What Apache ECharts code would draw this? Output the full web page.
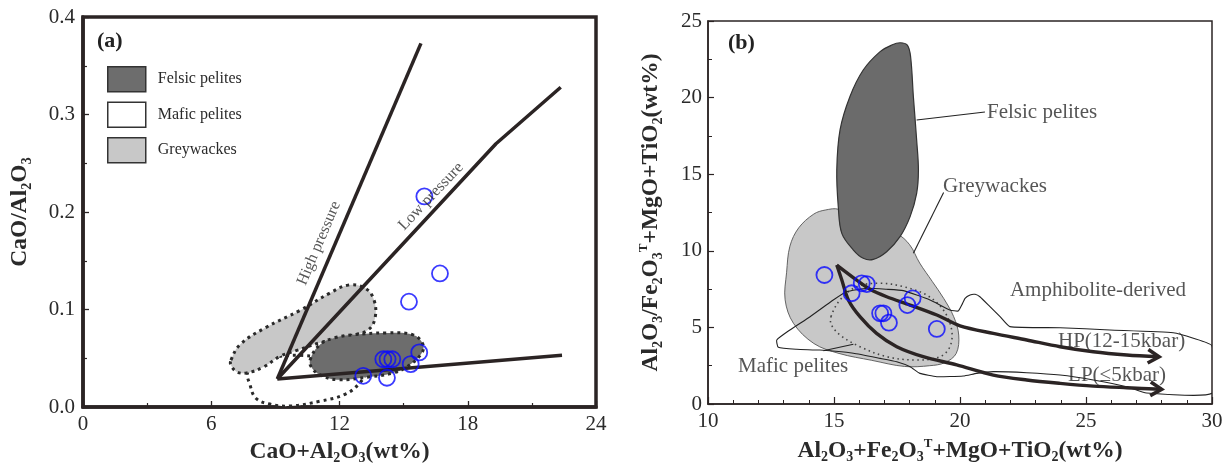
<!DOCTYPE html>
<html><head><meta charset="utf-8">
<script src="https://cdn.jsdelivr.net/npm/echarts/dist/echarts.min.js"></script>
<style>html,body{margin:0;padding:0;background:#fff}#c{width:1231px;height:467px}</style>
</head><body><div id="c"></div>
<script>
// ================= DATA =================
// Panel (a)
const aXTicks = [0, 6, 12, 18, 24];
const aYTicks = [0, 0.1, 0.2, 0.3, 0.4];
const aSamples = [[15.97,0.216],[16.70,0.137],[15.25,0.108],[15.73,0.056],[15.33,0.044],
  [14.05,0.049],[14.25,0.049],[14.47,0.049],[13.11,0.032],[14.22,0.030]];
const aHighPressure = [[9.09,0.0287],[15.81,0.373]];
const aLowPressure = [[9.09,0.0287],[19.32,0.270],[22.35,0.328]];
const aBaseLine = [[9.09,0.0287],[22.41,0.053]];
const aFelsic = [[10.62,0.048],[11.09,0.064],[11.79,0.071],[12.63,0.074],[14.22,0.076],[15.44,0.074],
  [15.91,0.064],[15.81,0.054],[15.14,0.041],[14.52,0.035],[13.43,0.031],[11.88,0.028],[11.09,0.033],[10.71,0.040]];
const aMafic = [[7.72,0.036],[7.81,0.023],[8.09,0.009],[8.75,0.003],[9.68,0.001],[11.09,0.006],[12.26,0.013],
  [12.96,0.025],[13.19,0.036],[12.02,0.046],[10.15,0.053],[8.51,0.048]];
const aGreywacke = [[6.92,0.048],[7.35,0.064],[8.51,0.081],[10.15,0.099],[11.56,0.117],[12.40,0.125],[13.19,0.122],
  [13.61,0.110],[13.66,0.091],[13.33,0.079],[12.49,0.073],[11.09,0.066],[10.0,0.058],[9.22,0.052],[8.44,0.041],
  [7.66,0.035],[7.2,0.036],[6.92,0.043]];
const aLegendNames = ['Felsic pelites', 'Mafic pelites', 'Greywackes'];
const aNotes = [{text:'High pressure', x:11.04, y:0.168, rot:67}, {text:'Low pressure', x:16.28, y:0.216, rot:46.5}];

// Panel (b)
const bXTicks = [10, 15, 20, 25, 30];
const bYTicks = [0, 5, 10, 15, 20, 25];
const bSamples = [[14.62,8.42],[15.70,7.23],[16.10,7.88],[16.30,7.83],[16.83,5.92],[16.96,5.92],
  [17.18,5.31],[17.91,6.46],[18.12,6.90],[19.08,4.90]];
const bFelsic = [[17.62,23.58],[17.91,23.43],[18.04,22.67],[18.15,20.06],[18.28,17.23],[18.35,15.27],[18.28,13.75],
  [18.02,12.23],[17.62,10.92],[17.09,9.94],[16.56,9.44],[16.16,9.51],[15.77,10.05],[15.31,11.14],[15.17,12.88],
  [15.11,15.27],[15.24,17.89],[15.63,20.06],[16.16,21.80],[16.83,23.0],[17.29,23.43]];
const bGreywacke = [[13.25,10.3],[13.6,11.5],[14.2,12.4],[14.65,12.66],[15.2,12.7],[16.4,11.6],[17.5,11.1],[18.0,10.4],
  [18.4,9.2],[18.9,8.0],[19.35,6.9],[19.75,5.7],[19.95,4.5],[19.85,3.3],[19.4,2.7],[18.8,2.5],[17.8,2.45],
  [16.5,2.85],[15.2,3.3],[14.2,3.95],[13.39,5.27],[13.06,6.8],[13.12,8.6]];
const bMafic = [[14.88,5.70],[15.24,6.79],[15.9,7.66],[16.83,7.88],[17.75,7.66],[18.68,7.11],[19.34,6.14],
  [19.67,4.83],[19.6,3.74],[19.21,3.09],[18.28,2.87],[17.09,3.09],[16.03,3.74],[15.24,4.5],[14.9,5.16]];
const bAmphibolite = [[12.73,4.18],[13.25,4.83],[14.05,5.70],[14.97,6.79],[15.5,7.33],[16.3,7.55],[17.09,7.49],
  [17.75,7.40],[18.81,6.79],[19.6,6.14],[19.93,6.07],[20.07,6.46],[20.2,6.9],[20.4,7.12],[20.6,7.16],[20.79,7.0],
  [21.19,6.35],[21.59,5.7],[21.98,5.05],[23.97,4.98],[25.95,4.83],[28.46,4.65],[29.26,4.29],[30.0,3.8],
  [30.0,0.70],[27.4,0.72],[26.62,1.13],[25.29,1.57],[23.97,1.89],[22.65,2.04],[21.32,2.11],[20.66,2.0],
  [20.13,1.83],[19.08,1.78],[18.41,2.0],[18.02,2.43],[17.49,2.76],[16.83,2.98],[15.77,3.31],[14.44,3.52],
  [13.52,3.57],[12.79,3.70]];
const bHP = [[15.11,9.07],[15.90,8.09],[16.43,7.49],[17.09,7.00],[18.02,6.46],[19.08,5.81],[20.0,5.10],
  [21.32,4.61],[22.65,4.18],[23.97,3.74],[25.29,3.41],[26.62,3.20],[27.9,3.08]];
const bLP = [[15.11,9.07],[15.31,8.09],[15.57,6.79],[16.03,5.70],[16.69,4.61],[17.49,3.74],[18.54,3.09],
  [19.87,2.55],[21.32,1.89],[22.65,1.57],[23.97,1.35],[25.29,1.17],[26.62,1.06],[28.0,0.96]];
const bLeaderFelsic = [[18.28,18.54],[20.99,19.06]];
const bLeaderGrey = [[18.15,9.84],[19.35,13.8]];
const bLeaderMafic = [[14.58,3.48],[15.77,3.90]];
const bNotes = [{text:'Felsic pelites', x:21.07, y:19.06}, {text:'Greywackes', x:19.33, y:14.23},
  {text:'Amphibolite-derived', x:21.98, y:7.44}, {text:'HP(12-15kbar)', x:23.89, y:4.05},
  {text:'LP(≤5kbar)', x:24.29, y:1.89}, {text:'Mafic pelites', x:11.19, y:2.48}];

// ================= STYLE =================
const INK = '#2b2424';
const SERIF = '"Liberation Serif", "Times New Roman", serif';
const TXT = '#2a2a2a';
const BLUE = '#0a0aff';

function nameRich(size) {
  return {
    b: {fontFamily: SERIF, fontSize: size, fontWeight: 'bold', color: TXT, lineHeight: size + 4},
    s: {fontFamily: SERIF, fontSize: Math.round(size * 0.6), fontWeight: 'bold', color: TXT,
        verticalAlign: 'bottom', lineHeight: Math.round(size * 0.6) + 2},
    p: {fontFamily: SERIF, fontSize: Math.round(size * 0.55), fontWeight: 'bold', color: TXT,
        verticalAlign: 'top', lineHeight: Math.round(size * 0.55) + 2}
  };
}

function polyRender(points, style, smooth) {
  return function (params, api) {
    if (params.dataIndex !== 0) return null;
    return {type: 'polygon', shape: {points: points.map(p => api.coord(p)), smooth: smooth},
      style: Object.assign({}, style)};
  };
}
function arrowRender(points) {
  return function (params, api) {
    if (params.dataIndex !== 0) return null;
    const pts = points.map(p => api.coord(p));
    const n = pts.length, tip = pts[n - 1], prev = pts[n - 2];
    const ang = Math.atan2(tip[1] - prev[1], tip[0] - prev[0]);
    const L = 13, a = 0.55;
    const h1 = [tip[0] - L * Math.cos(ang - a), tip[1] - L * Math.sin(ang - a)];
    const h2 = [tip[0] - L * Math.cos(ang + a), tip[1] - L * Math.sin(ang + a)];
    return {type: 'group', children: [
      {type: 'polyline', shape: {points: pts, smooth: 0.3}, style: {stroke: INK, lineWidth: 3.4, fill: null}},
      {type: 'polyline', shape: {points: [h1, tip, h2]}, style: {stroke: INK, lineWidth: 3.6, fill: null, lineJoin: 'miter'}}
    ]};
  };
}
function customPoly(name, gi, points, style, smooth, z, color) {
  return {type: 'custom', name: name, xAxisIndex: gi, yAxisIndex: gi, data: points, clip: true, silent: true, z: z,
    itemStyle: {color: color || '#000'}, renderItem: polyRender(points, style, smooth)};
}
function lineSeries(gi, pts, width, z, color) {
  return {type: 'line', xAxisIndex: gi, yAxisIndex: gi, data: pts, symbol: 'none', silent: true, z: z,
    lineStyle: {color: color || INK, width: width}, emphasis: {disabled: true}, animation: false};
}
function notesSeries(gi, notes, size, position) {
  return {type: 'scatter', xAxisIndex: gi, yAxisIndex: gi, symbolSize: 0, silent: true, z: 20,
    data: notes.map(n => ({value: [n.x, n.y], label: {formatter: n.text, rotate: n.rot || 0}})),
    label: {show: true, position: position, distance: 0, fontFamily: SERIF, fontSize: size, color: TXT}};
}
function axis(gi, ticks, opts) {
  return Object.assign({
    gridIndex: gi, type: 'value', min: ticks[0], max: ticks[ticks.length - 1], interval: ticks[1] - ticks[0],
    splitLine: {show: false},
    axisTick: {show: true, inside: true, length: 6, lineStyle: {color: INK, width: 1.3}},
    axisLabel: {fontFamily: SERIF, fontSize: 21, color: TXT, margin: 7},
    nameLocation: 'middle'
  }, opts);
}

const chart = echarts.init(document.getElementById('c'), null, {renderer: 'canvas'});
chart.setOption({
  animation: false,
  backgroundColor: '#fff',
  grid: [
    {left: 83, top: 17, width: 513, height: 390, show: true, borderColor: INK, borderWidth: 3.5, containLabel: false, outerBoundsMode: 'none'},
    {left: 708, top: 21, width: 504, height: 383, show: true, borderColor: INK, borderWidth: 1.5, containLabel: false, outerBoundsMode: 'none'}
  ],
  xAxis: [
    axis(0, aXTicks, {axisLine: {show: true, lineStyle: {color: INK, width: 3.5}},
      minorTick: {show: true, splitNumber: 2, length: 4, lineStyle: {color: INK, width: 1.2}},
      name: '{b|CaO+Al}{s|2}{b|O}{s|3}{b|(wt%)}', nameGap: 31, nameTextStyle: {rich: nameRich(23.5)}}),
    axis(1, bXTicks, {axisLine: {show: true, lineStyle: {color: INK, width: 1.5}},
      axisTick: {show: true, inside: true, length: 7, lineStyle: {color: INK, width: 1.2}},
      minorTick: {show: true, splitNumber: 5, length: 4, lineStyle: {color: INK, width: 1}},
      name: '{b|Al}{s|2}{b|O}{s|3}{b|+Fe}{s|2}{b|O}{s|3}{p|T}{b|+MgO+TiO}{s|2}{b|(wt%)}', nameGap: 31,
      nameTextStyle: {rich: nameRich(23.5)}})
  ],
  yAxis: [
    axis(0, aYTicks, {axisLine: {show: true, lineStyle: {color: INK, width: 3.5}},
      minorTick: {show: true, splitNumber: 2, length: 4, lineStyle: {color: INK, width: 1.2}},
      axisLabel: {fontFamily: SERIF, fontSize: 21, color: TXT, margin: 8, formatter: v => v.toFixed(1)},
      name: '{b|CaO/Al}{s|2}{b|O}{s|3}', nameRotate: 90, nameGap: 49, nameTextStyle: {rich: nameRich(23.5)}}),
    axis(1, bYTicks, {axisLine: {show: true, lineStyle: {color: INK, width: 1.5}},
      axisTick: {show: true, inside: true, length: 6, lineStyle: {color: INK, width: 1.2}},
      minorTick: {show: true, splitNumber: 2, length: 4, lineStyle: {color: INK, width: 1}},
      axisLabel: {fontFamily: SERIF, fontSize: 21, color: TXT, margin: 6},
      name: '{b|Al}{s|2}{b|O}{s|3}{b|/Fe}{s|2}{b|O}{s|3}{p|T}{b|+MgO+TiO}{s|2}{b|(wt%)}', nameRotate: 90, nameGap: 43,
      nameTextStyle: {rich: nameRich(23.5)}})
  ],
  legend: {
    orient: 'vertical', left: 107, top: 66, itemWidth: 38, itemHeight: 25, itemGap: 9, icon: 'rect',
    selectedMode: false, padding: 0,
    textStyle: {fontFamily: SERIF, fontSize: 16, color: TXT, padding: [0, 0, 0, 7]},
    data: [
      {name: aLegendNames[0], itemStyle: {color: '#6d6d6d', borderColor: '#333', borderWidth: 1.5, borderType: 'solid'}},
      {name: aLegendNames[1], itemStyle: {color: '#ffffff', borderColor: '#333', borderWidth: 1.5, borderType: 'solid'}},
      {name: aLegendNames[2], itemStyle: {color: '#c8c8c8', borderColor: '#333', borderWidth: 1.5, borderType: 'solid'}}
    ]
  },
  graphic: [
    {type: 'text', left: 97, top: 30, z: 50, style: {text: '(a)', font: 'bold 22px ' + SERIF, fill: '#222'}},
    {type: 'text', left: 728, top: 32, z: 50, style: {text: '(b)', font: 'bold 22px ' + SERIF, fill: '#222'}}
  ],
  series: [
    // ---- (a) ----
    customPoly(aLegendNames[1], 0, aMafic, {fill: '#ffffff', stroke: '#2a2a2a', lineWidth: 3, lineDash: [3, 4]}, 0.4, 3, '#ffffff'),
    customPoly(aLegendNames[2], 0, aGreywacke, {fill: '#c8c8c8', stroke: '#2a2a2a', lineWidth: 3, lineDash: [3, 4]}, 0.4, 4, '#c8c8c8'),
    customPoly(aLegendNames[0], 0, aFelsic, {fill: '#6d6d6d', stroke: '#2a2a2a', lineWidth: 3, lineDash: [3, 4]}, 0.4, 5, '#6d6d6d'),
    lineSeries(0, aHighPressure, 3.5, 8),
    lineSeries(0, aLowPressure, 3.5, 8),
    lineSeries(0, aBaseLine, 3.5, 8),
    {type: 'scatter', xAxisIndex: 0, yAxisIndex: 0, data: aSamples, symbol: 'circle', symbolSize: 16, z: 12, silent: true,
      itemStyle: {color: 'rgba(0,0,0,0)', borderColor: BLUE, borderWidth: 1.8}},
    notesSeries(0, aNotes, 16, 'inside'),
    // ---- (b) ----
    customPoly('Greywackes (b)', 1, bGreywacke, {fill: '#c8c8c8', stroke: '#555', lineWidth: 0.9}, 0.35, 3, '#c8c8c8'),
    customPoly('Felsic pelites (b)', 1, bFelsic, {fill: '#6b6b6b', stroke: '#333', lineWidth: 1.2}, 0.35, 4, '#6b6b6b'),
    customPoly('Mafic pelites (b)', 1, bMafic, {fill: null, stroke: '#444', lineWidth: 1.6, lineDash: [1.5, 3.5]}, 0.35, 5, '#fff'),
    customPoly('Amphibolite-derived (b)', 1, bAmphibolite, {fill: null, stroke: '#222', lineWidth: 1.1}, 0.15, 6, '#fff'),
    lineSeries(1, bLeaderFelsic, 1.1, 7, '#222'),
    lineSeries(1, bLeaderGrey, 1.1, 7, '#222'),
    lineSeries(1, bLeaderMafic, 1.1, 7, '#222'),
    {type: 'custom', name: 'HP path', xAxisIndex: 1, yAxisIndex: 1, data: bHP, clip: true, silent: true, z: 8, renderItem: arrowRender(bHP)},
    {type: 'custom', name: 'LP path', xAxisIndex: 1, yAxisIndex: 1, data: bLP, clip: true, silent: true, z: 8, renderItem: arrowRender(bLP)},
    {type: 'scatter', xAxisIndex: 1, yAxisIndex: 1, data: bSamples, symbol: 'circle', symbolSize: 16, z: 12, silent: true,
      itemStyle: {color: 'rgba(0,0,0,0)', borderColor: BLUE, borderWidth: 1.8}},
    notesSeries(1, bNotes, 21, 'right')
  ]
});
</script></body></html>
